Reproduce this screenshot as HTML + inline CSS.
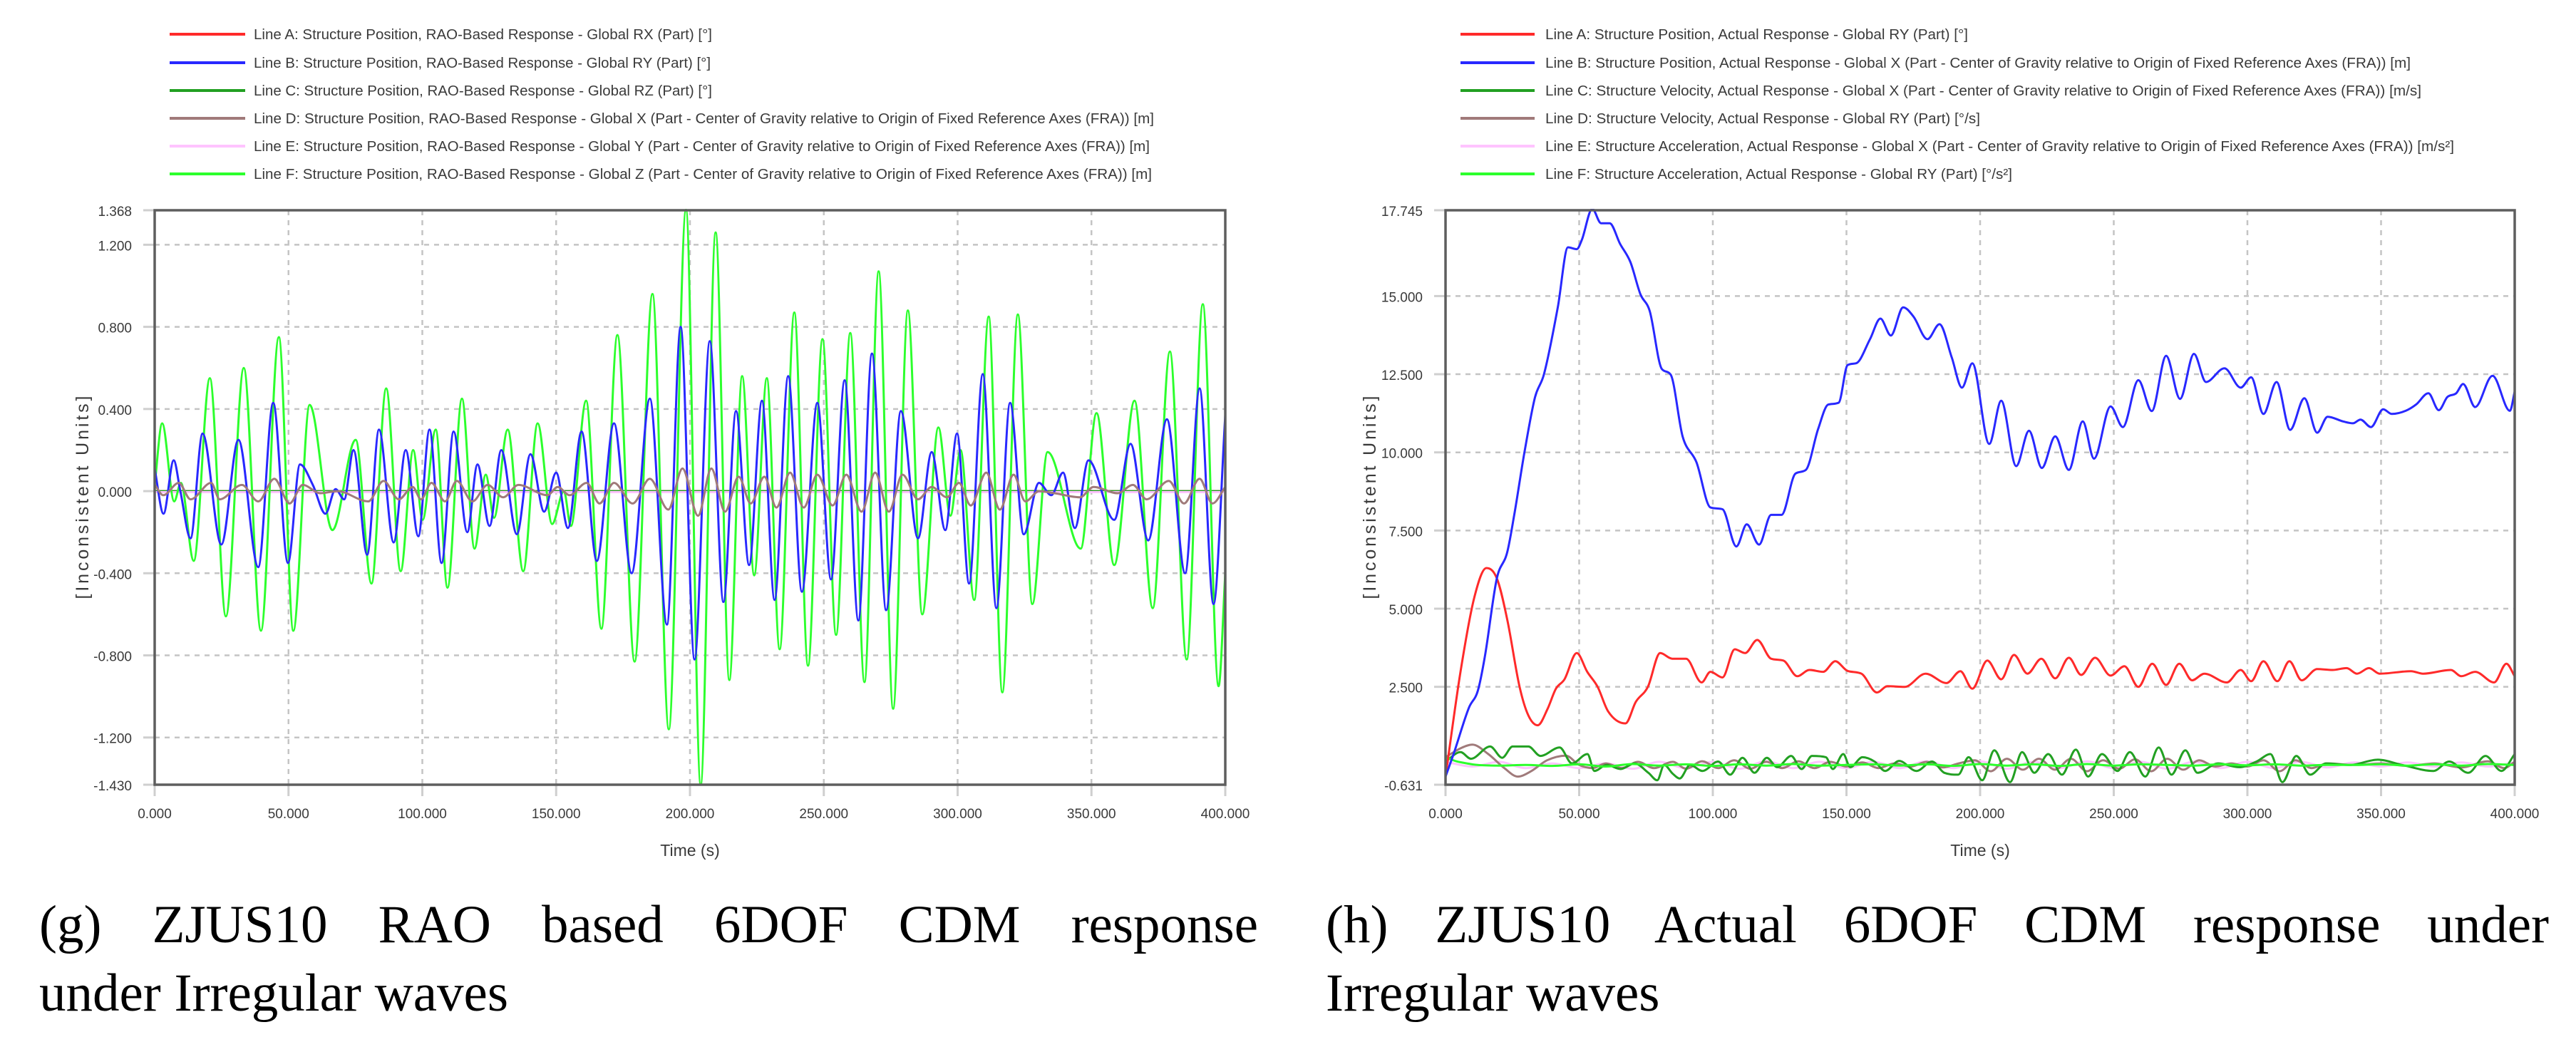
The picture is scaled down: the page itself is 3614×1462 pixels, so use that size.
<!DOCTYPE html>
<html><head><meta charset="utf-8"><style>
html,body{margin:0;padding:0;background:#fff;}
body{width:3614px;height:1462px;position:relative;overflow:hidden;}
svg{position:absolute;left:0;top:0;}
.cap{position:absolute;font-family:"Liberation Serif",serif;font-size:75px;line-height:96px;color:#000;white-space:nowrap;}
.j{text-align:justify;text-align-last:justify;white-space:normal;}
</style></head><body>
<svg id="fig" width="3614" height="1462" viewBox="0 0 3614 1462" xmlns="http://www.w3.org/2000/svg"></svg>
<div class="cap j" style="left:55px;top:1250px;width:1710px;">(g) ZJUS10 RAO based 6DOF CDM response</div>
<div class="cap" style="left:55px;top:1346px;">under Irregular waves</div>
<div class="cap j" style="left:1860px;top:1250px;width:1716px;">(h) ZJUS10 Actual 6DOF CDM response under</div>
<div class="cap" style="left:1860px;top:1346px;">Irregular waves</div>
<script>
// ---------- shared axis data ----------
const xTicks = [0,50,100,150,200,250,300,350,400];
const xTickLabels = ["0.000","50.000","100.000","150.000","200.000","250.000","300.000","350.000","400.000"];
const leftYTicks = [1.368,1.2,0.8,0.4,0,-0.4,-0.8,-1.2,-1.43];
const leftYTickLabels = ["1.368","1.200","0.800","0.400","0.000","-0.400","-0.800","-1.200","-1.430"];
const leftYGrid = [1.2,0.8,0.4,0,-0.4,-0.8,-1.2];
const rightYTicks = [17.745,15,12.5,10,7.5,5,2.5,-0.631];
const rightYTickLabels = ["17.745","15.000","12.500","10.000","7.500","5.000","2.500","-0.631"];
const rightYGrid = [15,12.5,10,7.5,5,2.5];

// ---------- left chart (g) series ----------
const leftNames = [
 "Line A: Structure Position, RAO-Based Response - Global RX (Part) [°]",
 "Line B: Structure Position, RAO-Based Response - Global RY (Part) [°]",
 "Line C: Structure Position, RAO-Based Response - Global RZ (Part) [°]",
 "Line D: Structure Position, RAO-Based Response - Global X (Part - Center of Gravity relative to Origin of Fixed Reference Axes (FRA)) [m]",
 "Line E: Structure Position, RAO-Based Response - Global Y (Part - Center of Gravity relative to Origin of Fixed Reference Axes (FRA)) [m]",
 "Line F: Structure Position, RAO-Based Response - Global Z (Part - Center of Gravity relative to Origin of Fixed Reference Axes (FRA)) [m]"];
const leftTimesA = [0,400];
const leftValuesA = [0,0];
const leftTimesB = [0,3.3,7.1,9.6,13.4,17.9,24.9,31.3,38.7,44.3,49.8,54.3,59.1,63.8,67.6,70.8,74.3,79.4,83.8,89.3,93.8,98.5,102.7,107.2,111.7,116.8,120.6,125.1,129.5,135.3,140.4,145.5,150.0,154.4,159.5,165.2,171.6,178.2,185.0,191.4,196.5,201.7,207.4,212.5,217.2,222.1,226.9,231.6,236.7,241.8,247.6,252.7,257.8,262.9,268.0,273.3,278.8,285.2,290.3,295.4,299.8,304.3,309.4,314.5,319.6,324.7,330.4,335,339.4,343.8,348.9,358.5,364.6,371.2,378.2,385.0,390.4,395.6,400];
const leftValuesB = [0.11,-0.11,0.15,0.0,-0.23,0.28,-0.26,0.25,-0.37,0.43,-0.35,0.13,0.03,-0.11,0.01,-0.04,0.20,-0.31,0.30,-0.25,0.20,-0.22,0.30,-0.35,0.29,-0.20,0.13,-0.17,0.20,-0.21,0.18,-0.10,0.09,-0.18,0.29,-0.34,0.33,-0.40,0.45,-0.65,0.80,-0.82,0.73,-0.54,0.39,-0.36,0.44,-0.53,0.56,-0.49,0.43,-0.43,0.54,-0.63,0.67,-0.58,0.39,-0.23,0.19,-0.19,0.28,-0.45,0.57,-0.57,0.43,-0.21,0.04,-0.02,0.09,-0.18,0.15,-0.14,0.23,-0.24,0.35,-0.40,0.50,-0.55,0.37];
const leftTimesC = [0,400];
const leftValuesC = [0,0];
const leftTimesD = [0.1,3.2,9.0,13.4,21.1,24.3,32.6,38.7,44.7,50.4,55.3,61.9,68.3,79.8,85.5,91.2,96.4,99.5,103.4,108.5,112.9,118.7,124.4,130.2,135.9,146.7,150.6,155.0,161.4,166.2,171.6,178.6,185.0,191.9,197.2,203.0,208.0,213.1,218.2,222.7,227.8,232.3,237.4,242.5,247.6,253.3,258.4,264.1,269.2,274.3,279.4,285.2,290.3,296.0,300.5,304.9,310.7,315.8,320.9,325.3,330.4,336.2,345.7,350.8,359.8,365.5,370.6,378.9,384.6,390.4,395.2,400];
const leftValuesD = [0.03,-0.02,0.04,-0.04,0.04,-0.04,0.03,-0.05,0.06,-0.06,0.03,-0.01,0.0,-0.05,0.05,-0.04,0.02,-0.04,0.04,-0.05,0.05,-0.05,0.03,-0.03,0.03,-0.02,0.02,-0.02,0.04,-0.06,0.04,-0.06,0.06,-0.09,0.11,-0.12,0.11,-0.10,0.07,-0.06,0.07,-0.08,0.09,-0.08,0.08,-0.07,0.08,-0.10,0.09,-0.10,0.08,-0.04,0.02,-0.03,0.04,-0.07,0.09,-0.09,0.08,-0.05,0.0,-0.01,-0.03,0.02,-0.01,0.03,-0.04,0.05,-0.06,0.06,-0.06,0.02];
const leftTimesE = [0,400];
const leftValuesE = [-0.005,-0.005];
const leftTimesF = [0,2.8,7.3,9.8,14.6,20.6,26.6,33.3,39.7,46.4,51.8,57.9,66.4,75.1,81.0,86.5,91.9,96.6,100.1,105.0,109.4,114.8,119.5,123.7,126.8,131.9,137.7,143.1,148.5,152.9,155.5,161.2,166.9,172.9,179.3,186.0,192.1,198.5,204.0,209.6,214.7,219.5,224.0,228.7,233.5,239.0,244.1,249.5,254.6,259.9,265.2,270.5,275.9,281.4,286.8,292.8,297.3,301.1,306.2,311.6,316.7,322.5,327.9,333.6,346.0,351.9,358.5,366.1,372.9,379.3,385.6,391.6,397.5,400];
const leftValuesF = [0.03,0.33,-0.05,0.04,-0.34,0.55,-0.61,0.60,-0.68,0.75,-0.68,0.42,-0.19,0.25,-0.45,0.50,-0.39,0.20,-0.14,0.30,-0.47,0.45,-0.28,0.08,-0.13,0.30,-0.39,0.33,-0.16,0.0,-0.17,0.44,-0.67,0.76,-0.83,0.96,-1.16,1.37,-1.43,1.26,-0.92,0.56,-0.41,0.55,-0.77,0.87,-0.85,0.74,-0.70,0.77,-0.93,1.07,-1.06,0.88,-0.60,0.31,-0.12,0.20,-0.53,0.85,-0.98,0.86,-0.55,0.19,-0.28,0.38,-0.36,0.44,-0.57,0.68,-0.82,0.91,-0.95,-0.40];

// ---------- right chart (h) series ----------
const rightNames = [
 "Line A: Structure Position, Actual Response - Global RY (Part) [°]",
 "Line B: Structure Position, Actual Response - Global X (Part - Center of Gravity relative to Origin of Fixed Reference Axes (FRA)) [m]",
 "Line C: Structure Velocity, Actual Response - Global X (Part - Center of Gravity relative to Origin of Fixed Reference Axes (FRA)) [m/s]",
 "Line D: Structure Velocity, Actual Response - Global RY (Part) [°/s]",
 "Line E: Structure Acceleration, Actual Response - Global X (Part - Center of Gravity relative to Origin of Fixed Reference Axes (FRA)) [m/s²]",
 "Line F: Structure Acceleration, Actual Response - Global RY (Part) [°/s²]"];
const rightTimesA = [0,5.6,10.8,15.3,19.2,23.1,27.7,30.9,34.5,38.1,41.3,44.5,49.1,53.0,56.9,60.8,67.3,71.2,75.7,80.3,84.8,90.0,95.8,99.1,103.6,108.2,112.1,116.6,121.8,126.4,131.6,136.1,141.3,145.8,150.4,155.6,161.4,165.3,171.8,179.6,187.4,192.6,197.1,202.7,207.9,212.7,217.7,222.9,228.1,233.2,237.8,243.0,248.8,254.0,259.2,264.4,269.6,274.5,279.3,283.9,292.3,297.5,301.4,306.0,311.2,315.7,320.3,326.1,331.9,337.1,341.0,345.5,349.5,361.2,365.7,376.1,380.0,385.2,392.3,396.9,400];
const rightValuesA = [-0.37,2.98,5.37,6.30,5.97,4.65,2.50,1.60,1.27,1.78,2.44,2.74,3.58,2.98,2.50,1.72,1.33,2.02,2.50,3.58,3.40,3.40,2.64,2.98,2.80,3.70,3.58,4.0,3.40,3.34,2.84,3.04,2.98,3.32,3.01,2.92,2.32,2.52,2.50,2.92,2.62,3.00,2.44,3.34,2.74,3.52,2.92,3.40,2.77,3.43,2.88,3.43,2.86,3.16,2.50,3.24,2.56,3.24,2.71,2.92,2.64,3.04,2.68,3.32,2.68,3.32,2.71,3.07,3.04,3.10,2.92,3.10,2.92,3.00,2.92,3.04,2.84,2.98,2.64,3.24,2.84];
const rightTimesB = [0,3.0,8.8,12.1,14.7,19.2,23.1,25.7,29.6,33.5,36.8,42.0,45.8,49.1,51.0,54.9,58.2,61.4,65.3,69.2,72.9,76.4,80.9,84.2,88.7,93.9,99.1,103.6,108.8,112.7,117.3,121.8,125.7,130.9,134.8,139.4,143.2,147.1,150.4,153.6,158.8,162.7,166.6,171.2,175.1,180.3,184.8,189.4,193.2,197.1,203.4,207.9,213.5,218.3,223.1,228.1,233.2,238.4,242.6,248.8,253.4,259.2,264.2,269.6,274.8,280.0,284.5,291.4,297.5,301.4,306.0,310.9,316.0,321.3,326.1,330.0,335.8,339.5,342.3,346.2,350.8,354.0,359.2,363.1,367.7,371.6,374.8,378.1,380.7,385.2,391.7,398.2,400];
const rightValuesB = [-0.37,0.35,1.84,2.38,3.46,5.97,6.81,8.0,10.04,11.77,12.49,14.64,16.56,16.5,16.8,17.79,17.33,17.33,16.67,16.08,15.06,14.52,12.67,12.49,10.51,9.68,8.24,8.18,6.99,7.70,7.05,8.0,8.0,9.32,9.44,10.75,11.53,11.59,12.79,12.85,13.62,14.28,13.74,14.64,14.34,13.62,14.10,13.03,12.07,12.85,10.27,11.65,9.56,10.69,9.50,10.51,9.44,10.99,9.80,11.47,10.81,12.31,11.32,13.09,11.71,13.15,12.25,12.69,12.07,12.40,11.23,12.25,10.72,11.73,10.63,11.14,10.99,10.93,11.05,10.81,11.38,11.23,11.33,11.53,11.89,11.35,11.77,11.89,12.19,11.45,12.45,11.33,11.95];
const rightTimesC = [0,5.6,9.5,16.7,21.2,25.1,31,35.5,42.7,47.3,53.1,55.7,60.3,65.5,70.7,75.9,79.2,81.8,85,87.6,91.5,96.1,102,106.5,111.1,115.6,120.2,124.1,129.3,133.2,137.1,142.3,144.9,148.8,151.4,156,160.5,164.5,169.7,176.2,182,186.6,191.8,195.7,200.8,205.3,211.2,215.7,220.3,225.5,230.6,235.8,240.4,245.6,251.4,256,261.8,266.8,271.6,276.8,281.3,289.1,296.9,303.4,308.6,313.1,318.3,323.5,329.4,338.4,348.8,357.9,369.6,375.5,382.6,389.1,395,400];
const rightValuesC = [0.11,0.41,0.20,0.59,0.23,0.59,0.59,0.29,0.56,0.05,0.35,-0.19,0,-0.13,0.05,-0.25,-0.49,0,-0.28,-0.43,0,-0.19,0.11,-0.31,0.23,-0.25,0.23,-0.07,0.29,-0.13,0.29,0.25,-0.13,0.35,-0.07,0.25,0.11,-0.19,0.13,-0.19,0.11,-0.25,-0.31,0.25,-0.49,0.47,-0.55,0.41,-0.25,0.35,-0.31,0.49,-0.37,0.35,-0.19,0.41,-0.37,0.56,-0.31,0.47,-0.25,0.05,-0.07,0.11,0.35,-0.55,0.29,-0.31,0.05,0,0.17,0,-0.19,0.11,-0.25,0.29,-0.19,0.35];
const rightTimesD = [0,6,10,16,22,27,32,38,45,50,55,60,66,72,78,85,90,96,102,108,114,120,126,132,138,144,150,156,162,168,174,180,186,192,198,204,210,216,222,228,234,240,246,252,258,264,270,276,282,288,294,300,306,312,318,324,330,340,350,360,370,380,390,396,400];
const rightValuesD = [0.25,0.55,0.65,0.35,-0.1,-0.37,-0.2,0.15,0.3,0.0,-0.1,0.05,-0.1,0.1,-0.1,0.1,-0.12,0.12,-0.1,0.15,-0.12,0.1,-0.1,0.12,-0.1,0.1,-0.05,0.08,-0.1,0.05,-0.05,0.1,-0.08,0.05,0.15,-0.2,0.2,-0.15,0.2,-0.15,0.2,-0.2,0.15,-0.12,0.18,-0.2,0.2,-0.15,0.15,-0.05,0.05,-0.05,0.15,-0.2,0.15,-0.1,0.05,0,0.05,-0.03,0.05,-0.08,0.12,-0.1,0.1];
const rightTimesE = [0,10,20,30,40,50,60,70,80,90,100,110,120,130,140,150,160,170,180,190,200,210,220,230,240,250,260,270,280,290,300,310,320,330,340,350,360,370,380,390,400];
const rightValuesE = [0.1,-0.05,0.1,-0.1,0.05,-0.1,0.05,-0.12,0.1,-0.1,0.1,-0.12,0.12,-0.1,0.1,-0.1,0.1,-0.1,0.12,-0.1,0.12,-0.12,0.1,-0.1,0.12,-0.1,0.1,-0.12,0.1,-0.1,0.1,-0.1,0.1,-0.08,0.08,-0.05,0.08,-0.05,0.08,-0.05,0.08];
const rightTimesF = [0,4,8,12,20,30,40,50,60,70,80,90,100,110,120,130,140,150,160,170,180,190,200,210,220,230,240,250,260,270,280,290,300,310,320,330,340,350,360,370,380,390,400];
const rightValuesF = [0.25,0.12,0.05,0.0,-0.02,0.0,-0.03,0.02,-0.05,0.03,-0.02,0.02,-0.03,0.02,-0.02,0.03,-0.02,0.0,0.02,-0.02,0.02,-0.03,0.03,-0.02,0.02,-0.03,0.03,-0.02,0.02,0.0,-0.02,0.02,-0.01,0.02,-0.02,0.0,0.0,0.02,-0.02,0.02,-0.02,0.03,0.0];

const seriesColors = ["#ff2a2a","#2828ff","#22a022","#a07a7a","#ffc4ff","#2cff2c"];
const seriesKeys = ["a","b","c","d","e","f"];

const NS = "http://www.w3.org/2000/svg";
const svg = document.getElementById("fig");
function mk(tag, attrs, parent){
  const e = document.createElementNS(NS, tag);
  for (const k in attrs) e.setAttribute(k, attrs[k]);
  (parent||svg).appendChild(e);
  return e;
}
function monoPath(pts){
  const n = pts.length;
  if (n < 2) return "";
  const d = [], m = [];
  for (let i=0;i<n-1;i++) d.push((pts[i+1][1]-pts[i][1])/((pts[i+1][0]-pts[i][0])||1e-9));
  m.push(d[0]);
  for (let i=1;i<n-1;i++) m.push(d[i-1]*d[i] <= 0 ? 0 : (d[i-1]+d[i])/2);
  m.push(d[n-2]);
  for (let i=0;i<n-1;i++){
    if (d[i] === 0){ m[i]=0; m[i+1]=0; continue; }
    const a=m[i]/d[i], b=m[i+1]/d[i], s=a*a+b*b;
    if (s>9){ const t=3/Math.sqrt(s); m[i]=t*a*d[i]; m[i+1]=t*b*d[i]; }
  }
  let p = "M"+pts[0][0].toFixed(1)+","+pts[0][1].toFixed(1);
  for (let i=0;i<n-1;i++){
    const h=(pts[i+1][0]-pts[i][0])/3;
    p += " C"+(pts[i][0]+h).toFixed(1)+","+(pts[i][1]+m[i]*h).toFixed(1)+" "+(pts[i+1][0]-h).toFixed(1)+","+(pts[i+1][1]-m[i+1]*h).toFixed(1)+" "+pts[i+1][0].toFixed(1)+","+pts[i+1][1].toFixed(1);
  }
  return p;
}

function drawChart(c){
  const g = mk("g", {});
  
  
  const xs = t => c.x0 + (t - 0)/(400 - 0)*(c.x1 - c.x0);
  const ys = v => c.y1 - (v - c.ymin)/(c.ymax - c.ymin)*(c.y1 - c.y0);

  // legend
  for (let i=0;i<6;i++){
    const ly = c.legendY[i];
    const lg = mk("g", {}, g);
    
    
    mk("line", {x1:c.legX1, x2:c.legX2, y1:ly, y2:ly, stroke:seriesColors[i], "stroke-width":4}, lg);
    const t = mk("text", {x:c.legTextX, y:ly+7, "font-family":"Liberation Sans, sans-serif", "font-size":20, fill:"#3a3a3a", textLength:c.legW[i], lengthAdjust:"spacingAndGlyphs"}, lg);
    t.textContent = c.names[i];
  }

  // grid
  const grid = mk("g", {stroke:"#c4c4c4", "stroke-width":2.5, "stroke-dasharray":"7,7", fill:"none"}, g);
  
  
  xTicks.forEach(t=>{ if(t>0 && t<400) mk("line",{x1:xs(t),x2:xs(t),y1:c.y0,y2:c.y1},grid); });
  c.yGrid.forEach(v=>{ mk("line",{x1:c.x0,x2:c.x1,y1:ys(v),y2:ys(v)},grid); });

  // ticks & labels
  const ax = mk("g", {}, g);
  
  
  xTicks.forEach((t,i)=>{
    mk("line",{x1:xs(t),x2:xs(t),y1:c.y1,y2:c.y1+16,stroke:"#cfcfcf","stroke-width":3},ax);
    const tx = mk("text",{x:xs(t),y:c.y1+47,"text-anchor":"middle","font-family":"Liberation Sans, sans-serif","font-size":19,fill:"#3a3a3a"},ax);
    tx.textContent = xTickLabels[i];
  });
  const xt = mk("text",{x:(c.x0+c.x1)/2,y:c.y1+100,"text-anchor":"middle","font-family":"Liberation Sans, sans-serif","font-size":23,fill:"#3a3a3a"},ax);
  
  
  xt.textContent = "Time (s)";
  const ay = mk("g", {}, g);
  
  
  c.yTicks.forEach((v,i)=>{
    mk("line",{x1:c.x0-16,x2:c.x0,y1:ys(v),y2:ys(v),stroke:"#cfcfcf","stroke-width":3},ay);
    const ty = mk("text",{x:c.x0-32,y:ys(v)+8,"text-anchor":"end","font-family":"Liberation Sans, sans-serif","font-size":19,fill:"#3a3a3a"},ay);
    ty.textContent = c.yTickLabels[i];
  });
  const yt = mk("text",{x:0,y:0,"text-anchor":"middle","font-family":"Liberation Sans, sans-serif","font-size":25,fill:"#3a3a3a",textLength:285,lengthAdjust:"spacing",transform:"translate("+c.yTitleX+","+((c.y0+c.y1)/2)+") rotate(-90)"},ay);
  
  
  yt.textContent = "[Inconsistent Units]";

  // series
  const clipId = c.id+"-clip";
  const defs = mk("defs",{},g);
  const cp = mk("clipPath",{id:clipId},defs);
  mk("rect",{x:c.x0,y:c.y0-2,width:c.x1-c.x0,height:c.y1-c.y0+4},cp);
  const sg = mk("g",{"clip-path":"url(#"+clipId+")",fill:"none","stroke-linejoin":"round","stroke-linecap":"round"},g);
  
  
  c.order.forEach(i=>{
    const T = c.times[i], V = c.values[i];
    const n = Math.min(T.length, V.length);
    const pts = [];
    for (let k=0;k<n;k++) pts.push([xs(T[k]), ys(V[k])]);
    const p = mk("path",{d:monoPath(pts),stroke:seriesColors[i],"stroke-width":3},sg);
    
    
  });

  // frame
  const fr = mk("rect",{x:c.x0,y:c.y0,width:c.x1-c.x0,height:c.y1-c.y0,fill:"none",stroke:"#5e5e5e","stroke-width":3.5},g);
  
  
}

drawChart({
  id:"left", x0:217, x1:1719, y0:295, y1:1101, ymin:-1.43, ymax:1.368,
  yTicks:leftYTicks, yTickLabels:leftYTickLabels, yGrid:leftYGrid, yTitleX:124,
  names:leftNames, legendY:[48,88,127,166,205,244], legX1:238, legX2:344, legTextX:356,
  legW:[643,641,643,1263,1257,1260],
  times:[leftTimesA,leftTimesB,leftTimesC,leftTimesD,leftTimesE,leftTimesF],
  values:[leftValuesA,leftValuesB,leftValuesC,leftValuesD,leftValuesE,leftValuesF],
  order:[0,2,4,5,1,3]
});
drawChart({
  id:"right", x0:2028, x1:3528, y0:295, y1:1101, ymin:-0.631, ymax:17.745,
  yTicks:rightYTicks, yTickLabels:rightYTickLabels, yGrid:rightYGrid, yTitleX:1930,
  names:rightNames, legendY:[48,88,127,166,205,244], legX1:2049, legX2:2153, legTextX:2168,
  legW:[593,1214,1229,610,1275,655],
  times:[rightTimesA,rightTimesB,rightTimesC,rightTimesD,rightTimesE,rightTimesF],
  values:[rightValuesA,rightValuesB,rightValuesC,rightValuesD,rightValuesE,rightValuesF],
  order:[4,3,2,5,0,1]
});
</script>
</body></html>
